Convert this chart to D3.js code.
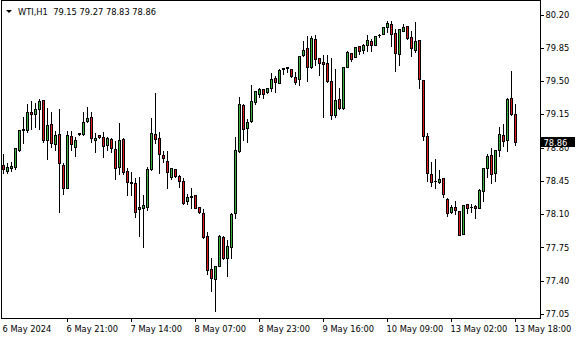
<!DOCTYPE html>
<html>
<head>
<meta charset="utf-8">
<script src="https://cdn.jsdelivr.net/npm/d3@7"></script>
<style>
  html, body { margin: 0; padding: 0; background: #fff; }
  svg text { font-family: 'DejaVu Sans', Tahoma, sans-serif; font-size: 8.3px; fill: #000; }
</style>
</head>
<body>
<div id="chart"></div>
<script>
const symbol = 'WTI,H1'

// hourly candles, oldest first
const open = [
  78.62, 78.55, 78.59, 78.60, 78.78, 78.98, 78.98, 79.17, 79.15, 79.21,
  79.30, 78.88, 79.05, 78.84, 78.94, 78.62, 78.38, 78.92, 78.81, 78.94,
  78.94, 79.08, 79.12, 78.88, 78.93, 78.91, 78.83, 78.89, 78.79, 78.60,
  78.89, 78.55, 78.44, 78.43, 78.15, 78.17, 78.18, 78.58, 78.94, 78.90,
  78.72, 78.66, 78.49, 78.58, 78.50, 78.45, 78.24, 78.29, 78.30, 78.18,
  78.11, 77.87, 77.52, 77.42, 77.56, 77.86, 77.64, 77.75, 78.11, 78.76,
  79.25, 79.01, 79.08, 79.28, 79.36, 79.42, 79.38, 79.43, 79.53, 79.48,
  79.63, 79.65, 79.63, 79.54, 79.52, 79.77, 79.85, 79.65, 79.94, 79.74,
  79.70, 79.69, 79.50, 79.14, 79.31, 79.22, 79.65, 79.79, 79.75, 79.87,
  79.83, 79.88, 79.92, 79.88, 79.98, 79.99, 80.07, 80.10, 80.01, 79.78,
  80.03, 80.08, 79.96, 79.83, 79.93, 79.51, 78.92, 78.52, 78.45, 78.44,
  78.48, 78.26, 78.12, 78.18, 78.13, 77.89, 78.21, 78.18, 78.19, 78.17,
  78.34, 78.59, 78.72, 78.53, 78.77, 78.93, 78.88, 79.32, 79.15
]
const high = [
  78.74, 78.65, 78.66, 78.81, 79.00, 79.13, 79.27, 79.30, 79.28, 79.32,
  79.31, 79.23, 79.18, 78.98, 79.22, 78.65, 78.99, 78.98, 78.92, 78.96,
  79.18, 79.24, 79.19, 78.96, 78.94, 78.97, 78.92, 78.91, 78.88, 79.07,
  78.91, 78.60, 78.55, 78.49, 78.50, 78.31, 78.61, 79.12, 79.38, 78.97,
  78.77, 78.77, 78.60, 78.59, 78.52, 78.49, 78.32, 78.39, 78.31, 78.19,
  78.17, 77.92, 77.65, 77.57, 77.89, 77.88, 77.84, 78.12, 78.92, 79.34,
  79.27, 79.11, 79.47, 79.41, 79.44, 79.43, 79.44, 79.60, 79.56, 79.64,
  79.65, 79.66, 79.64, 79.61, 79.77, 79.93, 79.98, 79.98, 79.99, 79.74,
  79.78, 79.78, 79.75, 79.64, 79.44, 79.65, 79.83, 79.80, 79.86, 79.88,
  79.90, 80.00, 79.95, 79.97, 80.01, 80.08, 80.14, 80.14, 80.06, 80.06,
  80.11, 80.09, 80.04, 80.13, 79.94, 79.52, 78.96, 78.66, 78.69, 78.58,
  78.49, 78.28, 78.21, 78.25, 78.14, 78.21, 78.22, 78.22, 78.21, 78.37,
  78.60, 78.74, 78.81, 78.79, 79.03, 79.06, 79.33, 79.62, 79.27
]
const low = [
  78.53, 78.53, 78.55, 78.58, 78.76, 78.85, 78.96, 79.00, 79.02, 79.00,
  78.86, 78.68, 78.81, 78.78, 78.12, 78.31, 78.37, 78.78, 78.71, 78.93,
  78.93, 79.07, 78.86, 78.75, 78.90, 78.70, 78.77, 78.75, 78.47, 78.52,
  78.52, 78.30, 78.30, 78.07, 77.87, 77.75, 78.14, 78.56, 78.85, 78.53,
  78.65, 78.37, 78.47, 78.49, 78.39, 78.21, 78.21, 78.17, 78.16, 78.11,
  77.85, 77.47, 77.29, 77.08, 77.55, 77.63, 77.45, 77.64, 78.06, 78.75,
  78.88, 78.86, 79.07, 79.26, 79.33, 79.32, 79.37, 79.40, 79.39, 79.48,
  79.57, 79.60, 79.54, 79.47, 79.46, 79.76, 79.50, 79.64, 79.67, 79.56,
  79.12, 79.49, 79.10, 79.12, 79.21, 79.21, 79.65, 79.71, 79.75, 79.78,
  79.79, 79.82, 79.82, 79.88, 79.96, 79.99, 80.02, 79.87, 79.61, 79.67,
  80.03, 79.94, 79.76, 79.81, 79.43, 78.88, 78.45, 78.40, 78.37, 78.43,
  78.28, 78.08, 78.11, 78.10, 77.88, 77.89, 78.11, 78.12, 78.06, 78.17,
  78.24, 78.49, 78.43, 78.45, 78.71, 78.82, 78.76, 79.14, 78.83
]
const close = [
  78.57, 78.60, 78.61, 78.80, 78.99, 79.00, 79.17, 79.15, 79.21, 79.29,
  78.88, 79.04, 78.85, 78.93, 78.64, 78.38, 78.93, 78.84, 78.88, 78.95,
  79.07, 79.11, 78.90, 78.90, 78.91, 78.82, 78.90, 78.80, 78.59, 78.88,
  78.54, 78.44, 78.43, 78.12, 78.18, 78.20, 78.58, 78.95, 78.89, 78.73,
  78.69, 78.54, 78.59, 78.50, 78.45, 78.22, 78.28, 78.28, 78.17, 78.12,
  77.86, 77.51, 77.43, 77.56, 77.87, 77.64, 77.77, 78.10, 78.77, 79.26,
  79.00, 79.07, 79.29, 79.40, 79.42, 79.36, 79.43, 79.52, 79.49, 79.62,
  79.64, 79.64, 79.55, 79.49, 79.76, 79.83, 79.65, 79.95, 79.73, 79.69,
  79.68, 79.50, 79.14, 79.30, 79.22, 79.65, 79.81, 79.73, 79.86, 79.82,
  79.88, 79.93, 79.88, 79.97, 79.98, 80.07, 80.11, 80.00, 79.79, 80.05,
  80.07, 79.95, 79.85, 79.92, 79.52, 78.92, 78.53, 78.44, 78.45, 78.47,
  78.31, 78.11, 78.18, 78.14, 77.88, 78.20, 78.17, 78.18, 78.17, 78.35,
  78.59, 78.71, 78.52, 78.78, 78.94, 78.87, 79.31, 79.15, 78.86
]

const priceTicks = [80.20, 79.85, 79.50, 79.15, 78.80, 78.45, 78.10, 77.75, 77.40, 77.05]
const timeTickIndex = [0, 16, 32, 48, 64, 80, 96, 112, 128]
const timeTickLabels = ['6 May 2024', '6 May 21:00', '7 May 14:00', '8 May 07:00', '8 May 23:00',
  '9 May 16:00', '10 May 09:00', '13 May 02:00', '13 May 18:00']

const width = 580
const height = 340
const frame = { left: 1.5, top: 0.5, right: 540.5, bottom: 318.5 }
const bullColor = '#36b336'
const bearColor = '#dc1c1c'

const svg = d3.select('#chart')
  .append('svg')
  .attr('width', width)
  .attr('height', height)

const x = d3.scaleLinear().domain([0, open.length - 1]).range([3, 515])
const y = d3.scaleLinear().domain([77.05, 80.20]).range([314, 14.5])

// snap to pixel centres so 1px lines stay sharp
const px = v => Math.round(v) + 0.5

const candles = open.map((o, i) => ({ i, o, h: high[i], l: low[i], c: close[i] }))

// frame
svg.append('rect')
  .attr('x', frame.left)
  .attr('y', frame.top)
  .attr('width', frame.right - frame.left)
  .attr('height', frame.bottom - frame.top)
  .attr('fill', 'none')
  .attr('stroke', '#000')
  .attr('shape-rendering', 'crispEdges')

const plotG = svg.append('g').attr('shape-rendering', 'crispEdges')

// wicks
plotG.append('g').selectAll('line')
  .data(candles)
  .join('line')
    .attr('x1', d => px(x(d.i)))
    .attr('x2', d => px(x(d.i)))
    .attr('y1', d => px(y(d.h)))
    .attr('y2', d => px(y(d.l)) + 0.5)
    .attr('stroke', '#000')

// bodies
const bodies = candles.map(d => {
  const top = px(y(Math.max(d.o, d.c)))
  const bottom = px(y(Math.min(d.o, d.c)))
  return { ...d, top, bottom }
})

plotG.append('g').selectAll('rect')
  .data(bodies.filter(d => d.bottom - d.top >= 1))
  .join('rect')
    .attr('x', d => px(x(d.i)) - 1)
    .attr('width', 2)
    .attr('y', d => d.top)
    .attr('height', d => d.bottom - d.top)
    .attr('fill', d => d.c >= d.o ? bullColor : bearColor)
    .attr('stroke', '#000')

// doji: flat body
plotG.append('g').selectAll('line')
  .data(bodies.filter(d => d.bottom - d.top < 1))
  .join('line')
    .attr('x1', d => px(x(d.i)) - 1.5)
    .attr('x2', d => px(x(d.i)) + 1.5)
    .attr('y1', d => d.top)
    .attr('y2', d => d.top)
    .attr('stroke', '#000')

// price axis
const yAxis = svg.append('g')
  .attr('transform', `translate(${frame.right},0)`)
  .call(d3.axisRight(y)
    .tickValues(priceTicks)
    .tickSize(3)
    .tickPadding(2)
    .tickFormat(d3.format('.2f')))
yAxis.select('.domain').remove()
yAxis.selectAll('.tick line').attr('stroke', '#000').attr('shape-rendering', 'crispEdges')
yAxis.selectAll('text').attr('font-size', null).attr('font-family', null)

// time axis
const xAxis = svg.append('g')
  .attr('transform', `translate(0,${frame.bottom})`)
  .call(d3.axisBottom(x)
    .tickValues(timeTickIndex)
    .tickSize(3)
    .tickFormat((d, i) => timeTickLabels[i]))
xAxis.select('.domain').remove()
xAxis.selectAll('.tick')
  .attr('transform', d => `translate(${px(x(d))},0)`)
xAxis.selectAll('.tick line').attr('stroke', '#000').attr('shape-rendering', 'crispEdges')
  .filter(d => d === 0).remove()
xAxis.selectAll('text')
  .attr('font-size', null).attr('font-family', null)
  .attr('text-anchor', 'start')
  .attr('x', -1)
  .attr('y', 13)
  .attr('dy', 0)

// last price tag
const last = close[close.length - 1]
const lastY = Math.round(y(last))
svg.append('rect')
  .attr('x', frame.right + 0.5)
  .attr('y', lastY - 5)
  .attr('width', 34)
  .attr('height', 10)
  .attr('fill', '#000')
svg.append('text')
  .attr('x', frame.right + 3)
  .attr('y', lastY + 3.5)
  .style('fill', '#fff')
  .text(d3.format('.2f')(last))

// header
svg.append('path')
  .attr('d', 'M6,10L12,10L9,13Z')
  .attr('fill', '#000')
svg.append('text')
  .attr('x', 18)
  .attr('y', 15)
  .attr('xml:space', 'preserve')
  .style('white-space', 'pre')
  .text(`${symbol}  ${[open, high, low, close].map(a => a[a.length - 1].toFixed(2)).join(' ')}`)
</script>
</body>
</html>
